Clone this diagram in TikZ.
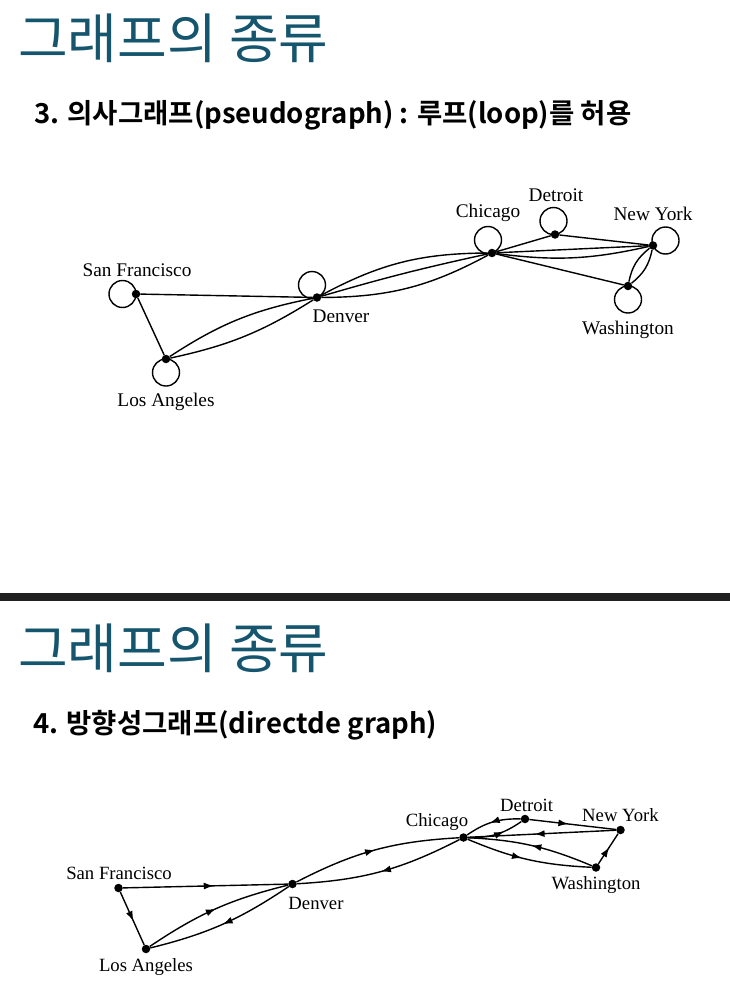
\documentclass[tikz,border=0pt]{standalone}
\usepackage{fontspec}
\setmainfont{Liberation Serif}
\newfontfamily\krfont{Noto Sans CJK KR}
\newfontfamily\krbold{Noto Sans CJK KR Bold}
\usetikzlibrary{arrows.meta,decorations.markings}
\definecolor{titleteal}{RGB}{21,86,110}
\definecolor{barcol}{RGB}{32,32,32}
\tikzset{
  vdot/.style={circle,fill=black,inner sep=0pt,minimum size=8.5pt},
  edgeline/.style={line width=1.4pt},
  loopline/.style={line width=1.4pt},
  citylabel/.style={inner sep=0pt,font=\fontsize{19.3}{19.3}\selectfont},
  citylabelb/.style={inner sep=0pt,font=\fontsize{18.7}{18.7}\selectfont},
  titletext/.style={inner sep=0pt,anchor=base west,text=titleteal,font=\krfont\fontsize{54}{54}\selectfont},
  subtext/.style={inner sep=0pt,anchor=base west,font=\krbold\fontsize{27.5}{27.5}\selectfont},
  midarrow/.style={postaction={decorate,decoration={markings,mark=at position #1 with {\arrow{Latex[length=10pt,width=7pt]}}}}},
  midarrow/.default=0.5
}
\begin{document}
\begin{tikzpicture}[x=1pt,y=-1pt]
\useasboundingbox (0,0) rectangle (730,998);
\fill[white] (0,0) rectangle (730,998);
% ---------- top panel ----------
\node[titletext] (t1) at (18,59) {그래프의 종류};
\node[subtext] (s1) at (34,123) {3. 의사그래프(pseudograph) : 루프(loop)를 허용};
% nodes
\node[vdot] (sf)  at (136,294) {};
\node[vdot] (la)  at (166,359) {};
\node[vdot] (den) at (317,297.5) {};
\node[vdot] (chi) at (492,253) {};
\node[vdot] (det) at (555,234.5) {};
\node[vdot] (ny)  at (653,245.5) {};
\node[vdot] (was) at (628,286) {};
% labels
\node[citylabel] (lsf)  at (137,270) {San Francisco};
\node[citylabel] (lla)  at (166,402) {Los Angeles};
\node[citylabel] (lden) at (341,316) {Denver};
\node[citylabel] (lchi) at (488,213) {Chicago};
\node[citylabel] (ldet) at (556,195) {Detroit};
\node[citylabel] (lny)  at (653,213.5) {New York};
\node[citylabel] (lwas) at (628,329.5) {Washington};
% loops
\draw[loopline] ([xshift=-13.5pt]sf.center) circle[radius=13.5pt];
\draw[loopline] ([yshift=-13.5pt]la.center) circle[radius=13.5pt];
\draw[loopline] ([xshift=-5pt,yshift=12.5pt]den.center) circle[radius=13.5pt];
\draw[loopline] ([xshift=-4pt,yshift=13pt]chi.center) circle[radius=13.5pt];
\draw[loopline] ([xshift=-1.5pt,yshift=13.5pt]det.center) circle[radius=13.5pt];
\draw[loopline] ([xshift=12.5pt,yshift=5pt]ny.center) circle[radius=13.5pt];
\draw[loopline] ([yshift=-13.5pt]was.center) circle[radius=13.5pt];
% edges
\draw[edgeline] (sf) -- (den);
\draw[edgeline] (sf) -- (la);
\draw[edgeline] (la) to[bend left=11] (den);
\draw[edgeline] (la) to[bend right=10] (den);
\draw[edgeline] (den) to[bend left=14] (chi);
\draw[edgeline] (den) to[bend left=2] (chi);
\draw[edgeline] (den) to[bend right=14] (chi);
\draw[edgeline] (chi) -- (det);
\draw[edgeline] (det) -- (ny);
\draw[edgeline] (chi) -- (ny);
\draw[edgeline] (chi) to[bend right=10] (ny);
\draw[edgeline] (chi) -- (was);
\draw[edgeline] (ny) to[bend left=20] (was);
\draw[edgeline] (ny) to[bend right=20] (was);
% ---------- separator ----------
\fill[barcol] (0,593) rectangle (730,601);
% ---------- bottom panel ----------
\node[titletext] (t2) at (18,668) {그래프의 종류};
\node[subtext] (s2) at (33,733) {4. 방향성그래프(directde graph)};
\node[vdot] (bsf)  at (118.5,888) {};
\node[vdot] (bla)  at (146,949) {};
\node[vdot] (bden) at (292.5,884) {};
\node[vdot] (bchi) at (463.5,837.5) {};
\node[vdot] (bdet) at (525,819) {};
\node[vdot] (bny)  at (620.5,830) {};
\node[vdot] (bwas) at (596,867.5) {};
\node[citylabelb] (lbsf)  at (119,873.5) {San Francisco};
\node[citylabelb] (lbla)  at (146,967.5) {Los Angeles};
\node[citylabelb] (lbden) at (316,903.5) {Denver};
\node[citylabelb] (lbchi) at (437,822.5) {Chicago};
\node[citylabelb] (lbdet) at (526.5,805) {Detroit};
\node[citylabelb] (lbny)  at (620.5,815) {New York};
\node[citylabelb] (lbwas) at (596,885.5) {Washington};
\draw[edgeline,midarrow=0.55] (bsf) -- (bden);
\draw[edgeline,midarrow=0.55] (bsf) -- (bla);
\draw[edgeline,midarrow=0.5] (bla) to[bend left=10] (bden);
\draw[edgeline,midarrow=0.5] (bden) to[bend left=10] (bla);
\draw[edgeline,midarrow=0.5] (bden) to[bend left=12] (bchi);
\draw[edgeline,midarrow=0.5] (bchi) to[bend left=12] (bden);
\draw[edgeline,midarrow=0.55] (bdet) to[bend right=18] (bchi);
\draw[edgeline,midarrow=0.65] (bchi) to[bend right=18] (bdet);
\draw[edgeline,midarrow=0.45] (bdet) -- (bny);
\draw[edgeline,midarrow=0.55] (bny) -- (bchi);
\draw[edgeline,midarrow=0.5] (bwas) to[bend right=10] (bchi);
\draw[edgeline,midarrow=0.45] (bchi) to[bend right=10] (bwas);
\draw[edgeline,midarrow=0.55] (bwas) -- (bny);
\end{tikzpicture}
\end{document}
